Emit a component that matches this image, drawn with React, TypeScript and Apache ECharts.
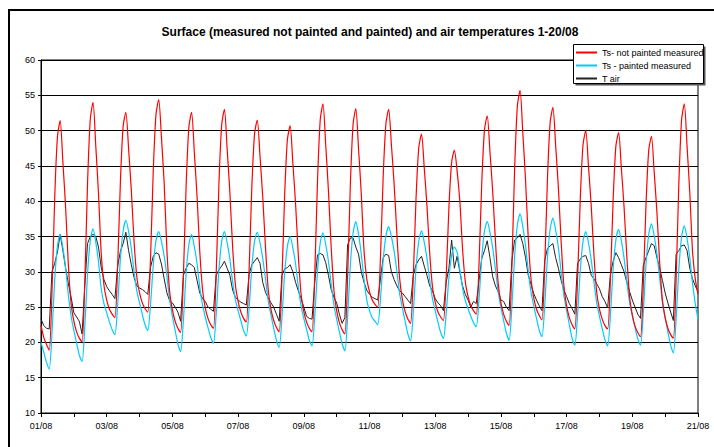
import React, { useEffect, useRef } from "react";
import * as echarts from "echarts";

// x axis: hours from 01/08 00:00, one reading every 2 hours (241 points, 20 days)
const STEP_HOURS = 2;
const dateLabels = ["01/08", "03/08", "05/08", "07/08", "09/08", "11/08", "13/08", "15/08", "17/08", "19/08", "21/08"];

// Ts - not painted measured (red)
const notPainted = [
  22.4, 20.7, 19.7, 18.9, 27.0, 40.4, 49.1, 51.4, 45.5, 39.1, 30.9, 25.5,
  23.0, 21.5, 20.6, 20.1, 28.6, 42.5, 51.6, 54.0, 47.9, 41.1, 32.6, 28.1,
  26.0, 24.7, 24.0, 23.5, 30.8, 42.7, 50.6, 52.6, 47.4, 41.5, 34.3, 29.3,
  27.0, 25.6, 24.8, 24.3, 31.8, 44.2, 52.3, 54.4, 49.0, 42.5, 33.0, 27.2,
  24.6, 23.0, 22.0, 21.4, 29.2, 42.0, 50.4, 52.6, 47.0, 40.7, 32.9, 27.5,
  24.9, 23.4, 22.5, 22.0, 29.8, 42.5, 50.8, 53.0, 47.4, 41.2, 33.5, 28.2,
  25.8, 24.3, 23.4, 22.9, 30.1, 41.8, 49.5, 51.5, 46.4, 40.6, 33.5, 27.5,
  24.7, 23.1, 22.1, 21.5, 28.8, 40.8, 48.7, 50.7, 45.4, 39.6, 32.3, 26.9,
  24.4, 22.9, 22.0, 21.5, 29.6, 42.8, 51.5, 53.8, 48.0, 41.5, 33.5, 27.4,
  24.5, 22.8, 21.8, 21.2, 29.2, 42.3, 50.9, 53.1, 47.4, 41.0, 33.0, 29.0,
  27.2, 26.0, 25.4, 25.0, 32.0, 43.5, 51.0, 53.0, 48.0, 42.4, 35.4, 29.1,
  26.1, 24.4, 23.3, 22.7, 29.4, 40.4, 47.6, 49.5, 44.7, 39.3, 32.6, 27.9,
  25.7, 24.3, 23.6, 23.1, 29.1, 39.0, 45.5, 47.2, 44.3, 40.0, 33.2, 28.6,
  26.5, 25.2, 24.5, 24.0, 31.0, 42.5, 50.1, 52.1, 47.0, 41.4, 34.4, 28.4,
  25.6, 24.0, 23.0, 22.4, 30.7, 44.4, 53.4, 55.7, 49.7, 43.0, 34.7, 29.0,
  26.3, 24.7, 23.8, 23.2, 30.7, 43.1, 51.2, 53.3, 47.9, 41.9, 34.3, 28.1,
  25.2, 23.5, 22.5, 21.9, 28.9, 40.4, 48.0, 50.0, 44.9, 39.3, 32.3, 27.1,
  24.7, 23.3, 22.4, 21.9, 28.9, 40.2, 47.8, 49.7, 44.7, 39.1, 32.2, 26.5,
  23.9, 22.3, 21.4, 20.8, 27.9, 39.5, 47.2, 49.2, 44.1, 38.4, 31.3, 26.0,
  23.5, 22.0, 21.1, 20.6, 28.9, 42.5, 51.5, 53.8, 47.8, 41.2, 32.9, 29.0,
  26.8,
];

// Ts - painted measured (cyan)
const painted = [
  20.0, 18.6, 17.2, 16.2, 21.2, 28.8, 33.6, 35.3, 33.4, 30.5, 26.7, 23.7,
  21.7, 19.9, 18.2, 17.3, 22.2, 29.7, 34.4, 36.1, 34.2, 31.4, 27.6, 25.5,
  24.2, 22.9, 21.8, 21.1, 25.3, 31.8, 35.8, 37.3, 35.7, 33.3, 30.0, 27.3,
  25.6, 24.0, 22.5, 21.7, 25.3, 30.9, 34.4, 35.7, 34.3, 32.2, 29.4, 26.0,
  23.7, 21.7, 19.8, 18.7, 23.0, 29.7, 33.8, 35.3, 33.6, 31.2, 27.8, 25.3,
  23.6, 22.1, 20.7, 19.9, 24.0, 30.3, 34.3, 35.7, 34.1, 31.8, 28.6, 26.1,
  24.5, 23.1, 21.7, 20.9, 24.7, 30.6, 34.3, 35.6, 34.1, 31.9, 29.0, 25.9,
  23.9, 22.0, 20.3, 19.3, 23.4, 29.7, 33.6, 35.0, 33.4, 31.1, 27.9, 25.2,
  23.4, 21.9, 20.3, 19.5, 23.7, 30.1, 34.1, 35.5, 33.9, 31.5, 28.3, 25.3,
  23.3, 21.5, 19.8, 18.8, 23.6, 30.9, 35.5, 37.1, 35.3, 32.5, 28.9, 26.0,
  24.5, 23.5, 23.0, 22.5, 26.1, 31.7, 35.1, 36.4, 35.0, 32.9, 30.1, 26.9,
  24.9, 23.0, 21.2, 20.2, 24.3, 30.5, 34.4, 35.8, 34.2, 31.9, 28.8, 26.2,
  24.5, 22.9, 21.4, 20.6, 24.0, 29.1, 32.3, 33.5, 32.8, 30.3, 27.7, 25.9,
  24.8, 23.7, 22.8, 22.2, 26.1, 32.0, 35.8, 37.1, 35.6, 33.4, 30.4, 27.2,
  25.0, 23.1, 21.3, 20.3, 25.0, 32.1, 36.6, 38.2, 36.4, 33.7, 30.1, 27.1,
  25.2, 23.4, 21.7, 20.8, 25.2, 31.9, 36.1, 37.6, 35.9, 33.4, 30.0, 26.7,
  24.5, 22.5, 20.6, 19.6, 23.8, 30.2, 34.3, 35.7, 34.1, 31.7, 28.5, 25.6,
  23.7, 22.0, 20.4, 19.5, 23.8, 30.4, 34.5, 36.0, 34.4, 31.9, 28.6, 25.7,
  23.8, 22.1, 20.5, 19.6, 24.1, 31.0, 35.3, 36.8, 35.1, 32.5, 29.1, 25.7,
  23.5, 21.5, 19.6, 18.5, 23.2, 30.4, 34.9, 36.5, 34.7, 32.0, 28.4, 25.5,
  23.3,
];

// T air (black)
const airTemp = [
  23.3, 22.4, 22.0, 21.9, 30.0, 31.2, 32.8, 35.3, 33.0, 30.5, 28.3, 26.4,
  24.2, 23.6, 23.0, 21.2, 28.0, 34.0, 35.0, 35.3, 35.0, 33.5, 30.6, 28.9,
  27.9, 27.3, 26.8, 26.2, 30.8, 32.9, 34.0, 35.6, 33.0, 31.0, 29.2, 28.0,
  27.7, 27.5, 27.2, 26.8, 30.6, 32.2, 32.7, 32.5, 31.1, 29.0, 27.0, 25.9,
  25.6, 25.0, 24.3, 23.0, 29.5, 30.5, 31.2, 31.0, 30.6, 28.8, 27.0, 26.2,
  25.8, 25.0, 24.7, 24.4, 29.5, 30.3, 30.8, 31.5, 30.5, 29.5, 27.4, 26.4,
  26.0, 25.7, 25.5, 25.3, 29.6, 31.0, 31.5, 32.0, 31.2, 28.5, 27.1, 26.3,
  25.6, 25.0, 24.0, 23.0, 29.5, 30.4, 30.6, 31.0, 30.0, 28.5, 27.3, 26.2,
  25.0, 23.7, 23.4, 23.3, 28.5, 32.4, 32.6, 32.4, 31.3, 29.5, 27.5, 26.4,
  25.6, 24.0, 22.7, 23.5, 33.8, 34.8, 34.8, 33.5, 32.5, 30.0, 28.5, 27.4,
  26.8, 26.4, 26.2, 26.0, 29.0, 32.0, 32.5, 32.3, 30.0, 28.9, 28.0, 27.3,
  27.0, 26.5, 26.0, 25.5, 29.5, 31.0, 31.7, 32.2, 30.8, 29.5, 28.0, 27.3,
  26.2, 25.6, 25.2, 24.5, 28.5, 30.5, 34.5, 30.5, 32.2, 30.0, 28.0, 26.8,
  26.0, 25.0, 25.8, 25.5, 28.7, 31.9, 33.0, 34.4, 32.0, 29.3, 28.0, 27.2,
  26.0, 25.8, 25.0, 24.5, 31.5, 34.5, 34.8, 35.3, 34.0, 32.0, 29.5, 28.2,
  26.9, 26.0, 25.2, 24.5, 31.6, 33.3, 33.7, 34.0, 32.0, 30.5, 28.8, 27.4,
  26.5, 25.5, 24.8, 24.0, 31.2, 31.8, 32.2, 32.3, 31.2, 29.5, 29.0, 28.3,
  27.6, 26.5, 25.8, 24.9, 29.6, 31.5, 32.7, 32.0, 31.0, 30.0, 28.5, 27.2,
  26.0, 25.0, 24.0, 23.4, 30.9, 32.0, 33.0, 34.0, 33.7, 32.0, 30.5, 28.8,
  27.0, 25.6, 24.3, 23.1, 32.5, 33.0, 33.7, 33.8, 33.0, 30.5, 29.0, 28.0,
  27.2,
];

const seriesNames = ["Ts- not painted measured", "Ts - painted measured", "T air"];
const seriesColors = ["#ff0000", "#00ccff", "#222222"];

const FONT = "Arial, 'Liberation Sans', sans-serif";

export default function App() {
  const ref = useRef<HTMLDivElement>(null);
  useEffect(() => {
    if (!ref.current) return;
    const chart = echarts.init(ref.current, null, { renderer: "svg" });
    const toPts = (arr: number[]) => arr.map((v, i) => [i * STEP_HOURS, v]);
    const seriesData = [notPainted, painted, airTemp];
    chart.setOption({
      animation: false,
      backgroundColor: "#ffffff",
      textStyle: { fontFamily: FONT },
      graphic: [
        {
          type: "rect",
          shape: { x: 9, y: 10, width: 800, height: 500 },
          style: { fill: "none", stroke: "#000", lineWidth: 2 },
          silent: true,
          z: 100,
        },
        {
          type: "text",
          x: 370,
          y: 32,
          style: {
            text: "Surface (measured not painted and painted) and air temperatures 1-20/08",
            font: `bold 12px ${FONT}`,
            fill: "#000",
            textAlign: "center",
            textVerticalAlign: "middle",
          },
        },
        {
          type: "rect",
          shape: { x: 575.5, y: 46.5, width: 130, height: 39 },
          style: { fill: "#555", stroke: "none" },
          silent: true,
          z: 40,
        },
        {
          type: "rect",
          shape: { x: 573.5, y: 44.5, width: 130, height: 39 },
          style: { fill: "#fff", stroke: "#000", lineWidth: 1 },
          silent: true,
          z: 41,
        },
      ],
      legend: {
        show: true,
        orient: "vertical",
        left: 576,
        top: 47,
        icon: "rect",
        itemWidth: 21,
        itemHeight: 2,
        itemGap: 2,
        padding: 0,
        backgroundColor: "transparent",
        textStyle: { fontSize: 9, color: "#000", fontFamily: FONT, lineHeight: 11 },
        data: seriesNames,
        z: 50,
      },
      grid: {
        left: 41,
        right: 16,
        top: 60,
        bottom: 34,
        show: true,
        borderColor: "#000",
        borderWidth: 1,
        backgroundColor: "transparent",
      },
      xAxis: {
        type: "value",
        min: 0,
        max: 480,
        interval: 24,
        axisLine: { show: true, onZero: false, lineStyle: { color: "#000", width: 1 } },
        axisTick: { show: true, length: 4, lineStyle: { color: "#000" } },
        splitLine: { show: false },
        axisLabel: {
          color: "#000",
          fontSize: 9,
          fontFamily: FONT,
          margin: 8,
          showMinLabel: true,
          showMaxLabel: true,
          formatter: (v: number) => {
            const d = Math.round(v / 24);
            return d % 2 === 0 ? dateLabels[d / 2] : "";
          },
        },
      },
      yAxis: {
        type: "value",
        min: 10,
        max: 60,
        interval: 5,
        axisLine: { show: true, lineStyle: { color: "#000", width: 1 } },
        axisTick: { show: true, length: 3, lineStyle: { color: "#000" } },
        splitLine: { show: true, lineStyle: { color: "#000", width: 1 } },
        axisLabel: { color: "#000", fontSize: 9, fontFamily: FONT, margin: 6 },
      },
      series: seriesData.map((arr, k) => ({
        name: seriesNames[k],
        type: "line",
        data: toPts(arr),
        symbol: "none",
        smooth: k === 2 ? false : 0.25,
        lineStyle: { color: seriesColors[k], width: k === 2 ? 1 : 1.2 },
        itemStyle: { color: seriesColors[k] },
        z: 10 - k,
      })),
    });
    return () => chart.dispose();
  }, []);
  return (
    <div
      ref={ref}
      style={{ position: "fixed", left: 0, top: 0, width: 714, height: 447, background: "#fff" }}
    />
  );
}
